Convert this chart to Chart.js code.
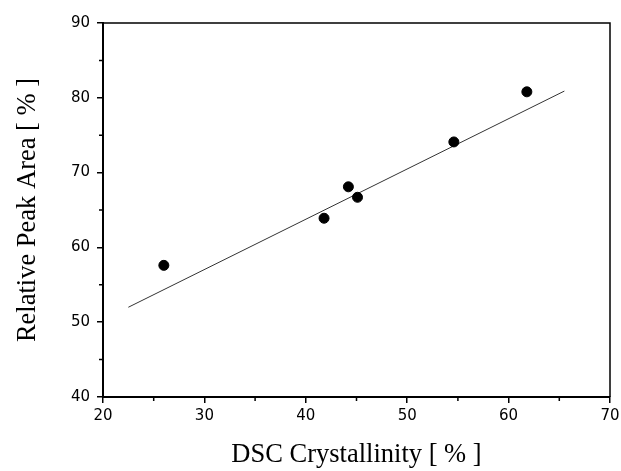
<!DOCTYPE html>
<html>
<head>
<meta charset="utf-8">
<script src="https://cdn.jsdelivr.net/npm/chart.js@4.4.1/dist/chart.umd.min.js"></script>
<style>
  html, body { margin: 0; padding: 0; background: #fff; }
  #wrap { width: 621px; height: 471px; position: relative; }
</style>
</head>
<body>
<div id="wrap"><canvas id="crystChart"></canvas></div>
<script>
// measured points
const dscCrystallinity = [26.0, 41.8, 44.2, 45.1, 54.6, 61.8];
const relPeakArea = [57.6, 63.9, 68.1, 66.7, 74.1, 80.8];

// linear fit, end points
const fitX = [22.5, 65.5];
const fitY = [52.0, 80.9];

const xTicks = [20, 30, 40, 50, 60, 70];
const yTicks = [40, 50, 60, 70, 80, 90];

// frame + short minor ticks between the labelled ones
const framePlugin = {
    id: 'frame',
    afterDraw(chart) {
        const ctx = chart.ctx;
        const area = chart.chartArea;
        const xs = chart.scales.x;
        const ys = chart.scales.y;
        ctx.save();
        ctx.strokeStyle = '#000';
        ctx.lineWidth = 1.5;
        ctx.beginPath();
        ctx.moveTo(area.left, area.top);
        ctx.lineTo(area.right, area.top);
        ctx.lineTo(area.right, area.bottom);
        ctx.stroke();

        ctx.beginPath();
        for (let v = xs.min + 5; v < xs.max; v += 10) {
            const px = xs.getPixelForValue(v);
            ctx.moveTo(px, area.bottom);
            ctx.lineTo(px, area.bottom + 4);
        }
        for (let v = ys.min + 5; v < ys.max; v += 10) {
            const py = ys.getPixelForValue(v);
            ctx.moveTo(area.left, py);
            ctx.lineTo(area.left - 4, py);
        }
        ctx.stroke();
        ctx.restore();
    }
};

document.addEventListener('DOMContentLoaded', function() {
    const ctx = document.getElementById('crystChart').getContext('2d');

    const points = dscCrystallinity.map((x, i) => ({ x: x, y: relPeakArea[i] }));
    const fitLine = fitX.map((x, i) => ({ x: x, y: fitY[i] }));

    const tickFont = { family: "'DejaVu Sans', Arial, sans-serif", size: 15 };
    const titleFont = { family: "'Liberation Serif', 'Times New Roman', serif", size: 26.5 };

    new Chart(ctx, {
        type: 'scatter',
        data: {
            datasets: [{
                data: points,
                backgroundColor: '#000',
                borderColor: '#000',
                pointRadius: 5,
                pointHoverRadius: 5
            }, {
                data: fitLine,
                showLine: true,
                borderColor: '#333',
                borderWidth: 1,
                pointRadius: 0,
                fill: false
            }]
        },
        options: {
            responsive: true,
            maintainAspectRatio: false,
            animation: false,
            layout: {
                padding: { left: 0, right: 11, top: 23, bottom: 0 }
            },
            plugins: {
                legend: { display: false },
                tooltip: { enabled: false }
            },
            scales: {
                x: {
                    type: 'linear',
                    min: 20,
                    max: 70,
                    afterBuildTicks: function(scale) {
                        scale.ticks = xTicks.map(v => ({ value: v }));
                    },
                    afterFit: function(scale) {
                        scale.height = 74;
                        scale.paddingLeft = 0;
                        scale.paddingRight = 0;
                    },
                    ticks: {
                        color: '#000',
                        font: tickFont,
                        padding: 4,
                        maxRotation: 0
                    },
                    grid: {
                        drawOnChartArea: false,
                        color: '#000',
                        tickLength: 6,
                        lineWidth: 1.5
                    },
                    border: { color: '#000', width: 2 },
                    title: {
                        display: true,
                        text: 'DSC Crystallinity [ % ]',
                        color: '#000',
                        font: titleFont,
                        padding: { top: 0, bottom: 0 }
                    }
                },
                y: {
                    type: 'linear',
                    min: 40,
                    max: 90,
                    afterBuildTicks: function(scale) {
                        scale.ticks = yTicks.map(v => ({ value: v }));
                    },
                    afterFit: function(scale) {
                        scale.width = 103;
                        scale.paddingTop = 0;
                        scale.paddingBottom = 0;
                    },
                    ticks: {
                        color: '#000',
                        font: tickFont,
                        padding: 7
                    },
                    grid: {
                        drawOnChartArea: false,
                        color: '#000',
                        tickLength: 6,
                        lineWidth: 1.5
                    },
                    border: { color: '#000', width: 2 },
                    title: {
                        display: true,
                        text: 'Relative Peak Area [ % ]',
                        color: '#000',
                        font: titleFont,
                        padding: { top: 12, bottom: 0 }
                    }
                }
            }
        },
        plugins: [framePlugin]
    });
});
</script>
</body>
</html>
